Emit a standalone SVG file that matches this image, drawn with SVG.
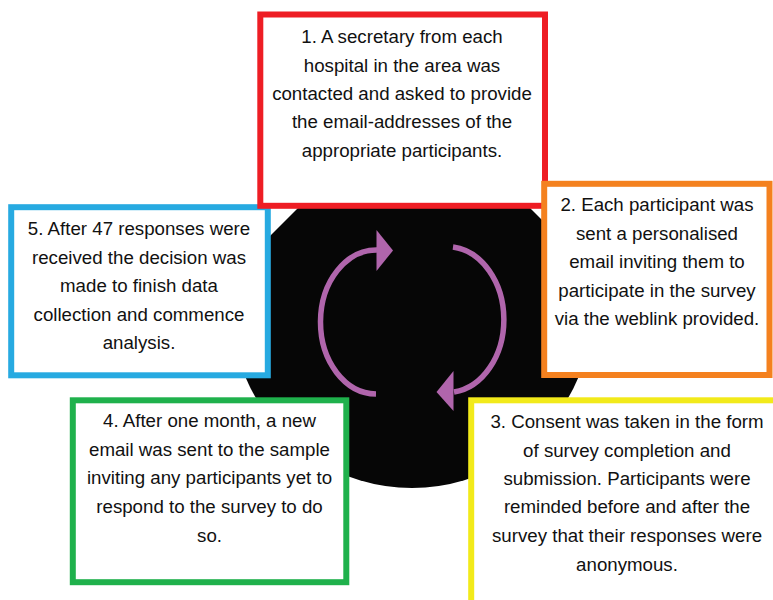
<svg xmlns="http://www.w3.org/2000/svg" width="773" height="600" viewBox="0 0 773 600">
<style>
  .box { fill: #ffffff; stroke-width: 6; }
  .t { font-family: "Liberation Sans", Arial, sans-serif; font-size: 18.7px; fill: #111111; text-anchor: middle; }
  .arc { fill: none; stroke: #B065AC; stroke-width: 5.5; }
  .head { fill: #B065AC; }
</style>
<rect width="773" height="600" fill="#ffffff"/>
<path id="backdrop" d="M 270,236 L 298,208 L 530,208 L 560,238 L 578.6,377 A 180.5 180.5 0 0 1 245.4,377 L 262,244 Z" fill="#060606"/>
<g id="connectors">
  <path class="arc" d="M 376,394 A 56 72 0 0 1 377,250"/>
  <polygon class="head" points="376.5,230 393,250.5 376.5,271"/>
  <path class="arc" d="M 453,247 A 57 73 0 0 1 454,392"/>
  <polygon class="head" points="453.5,371 436.5,392 453.5,411"/>
</g>
<g id="node5">
  <rect class="box" x="11.2" y="207.2" width="256.6" height="168.1" stroke="#27AAE1"/>
  <text class="t" x="139" y="235">5. After 47 responses were</text>
  <text class="t" x="139" y="263.5">received the decision was</text>
  <text class="t" x="139" y="292">made to finish data</text>
  <text class="t" x="139" y="320.5">collection and commence</text>
  <text class="t" x="139" y="349">analysis.</text>
</g>
<g id="node1">
  <rect class="box" x="260.3" y="14.5" width="284.7" height="191.3" stroke="#EE1D24"/>
  <text class="t" x="402" y="43.3">1. A secretary from each</text>
  <text class="t" x="402" y="71.7">hospital in the area was</text>
  <text class="t" x="402" y="100">contacted and asked to provide</text>
  <text class="t" x="402" y="128.3">the email-addresses of the</text>
  <text class="t" x="402" y="156.7">appropriate participants.</text>
</g>
<g id="node2">
  <rect class="box" x="544.2" y="183.8" width="225.3" height="191.2" stroke="#F4811F"/>
  <text class="t" x="657" y="211">2. Each participant was</text>
  <text class="t" x="657" y="239.5">sent a personalised</text>
  <text class="t" x="657" y="268">email inviting them to</text>
  <text class="t" x="657" y="296.5">participate in the survey</text>
  <text class="t" x="657" y="325">via the weblink provided.</text>
</g>
<g id="node4">
  <rect class="box" x="72.8" y="400.3" width="273.5" height="181.9" stroke="#1FB14C"/>
  <text class="t" x="209.5" y="427.3">4. After one month, a new</text>
  <text class="t" x="209.5" y="455.7">email was sent to the sample</text>
  <text class="t" x="209.5" y="484.3">inviting any participants yet to</text>
  <text class="t" x="209.5" y="513">respond to the survey to do</text>
  <text class="t" x="209.5" y="541.5">so.</text>
</g>
<g id="node3">
  <rect class="box" x="471.2" y="400.3" width="320" height="220" stroke="#F2EA1A"/>
  <text class="t" x="627" y="428.3">3. Consent was taken in the form</text>
  <text class="t" x="627" y="456.7">of survey completion and</text>
  <text class="t" x="627" y="485">submission. Participants were</text>
  <text class="t" x="627" y="513.3">reminded before and after the</text>
  <text class="t" x="627" y="542">survey that their responses were</text>
  <text class="t" x="627" y="570.5">anonymous.</text>
</g>
</svg>
